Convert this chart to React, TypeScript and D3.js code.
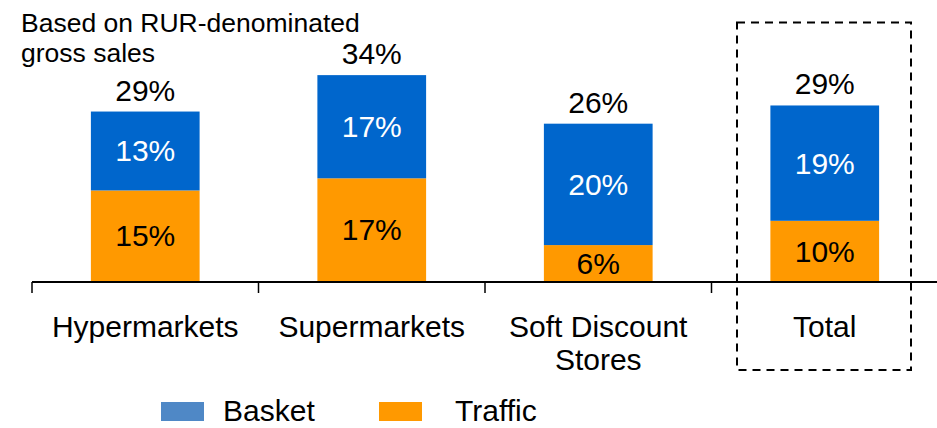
import React, { useEffect, useRef } from "react";
import * as d3 from "d3";

// growth decomposition, % yoy
const categories = ["Hypermarkets", "Supermarkets", "Soft Discount|Stores", "Total"];
const traffic = [15, 17, 6, 10];
const basket = [13, 17, 20, 19];
const totals = [29, 34, 26, 29];
const seriesNames = ["Basket", "Traffic"];

const width = 937;
const height = 428;
const FONT = "'Liberation Sans', Arial, sans-serif";

export default function App() {
  const ref = useRef<SVGSVGElement | null>(null);

  useEffect(() => {
    const svg = d3.select(ref.current);
    svg.selectAll("*").remove();

    const x = d3.scaleBand<string>().domain(categories).range([32, 938]).padding(0);
    const y = d3.scaleLinear().domain([0, 40]).range([281.5, 38.7]);
    const barW = x.step() * 0.48;
    const cx = (c: string) => (x(c) as number) + x.bandwidth() / 2;

    // note top left
    const note = svg.append("text").attr("font-family", FONT).attr("font-size", 26.5).attr("fill", "#000");
    note.append("tspan").attr("x", 21).attr("y", 31.5).text("Based on RUR-denominated");
    note.append("tspan").attr("x", 21).attr("y", 62).text("gross sales");

    // dashed box round Total
    svg.append("rect")
      .attr("x", 737).attr("y", 22.5)
      .attr("width", 174).attr("height", 347.5)
      .attr("fill", "none").attr("stroke", "#000")
      .attr("stroke-width", 2).attr("stroke-dasharray", "8,6");

    const g = svg.selectAll("g.bar").data(categories).enter().append("g").attr("class", "bar");

    // traffic (bottom)
    g.append("rect")
      .attr("x", (d) => cx(d) - barW / 2)
      .attr("y", (d, i) => y(traffic[i]))
      .attr("width", barW)
      .attr("height", (d, i) => y(0) - y(traffic[i]))
      .attr("fill", "#FF9900");

    // basket on top
    g.append("rect")
      .attr("x", (d) => cx(d) - barW / 2)
      .attr("y", (d, i) => y(traffic[i] + basket[i]))
      .attr("width", barW)
      .attr("height", (d, i) => y(traffic[i]) - y(traffic[i] + basket[i]))
      .attr("fill", "#0066CC");

    g.append("text")
      .attr("x", (d) => cx(d))
      .attr("y", (d, i) => (y(0) + y(traffic[i])) / 2 + 10.5)
      .attr("text-anchor", "middle").attr("font-family", FONT).attr("font-size", 30)
      .attr("fill", "#000")
      .text((d, i) => traffic[i] + "%");

    g.append("text")
      .attr("x", (d) => cx(d))
      .attr("y", (d, i) => (y(traffic[i]) + y(traffic[i] + basket[i])) / 2 + 10.5)
      .attr("text-anchor", "middle").attr("font-family", FONT).attr("font-size", 30)
      .attr("fill", "#fff")
      .text((d, i) => basket[i] + "%");

    g.append("text")
      .attr("x", (d) => cx(d))
      .attr("y", (d, i) => y(traffic[i] + basket[i]) - 11)
      .attr("text-anchor", "middle").attr("font-family", FONT).attr("font-size", 30)
      .attr("fill", "#000")
      .text((d, i) => totals[i] + "%");

    // axis
    svg.append("line")
      .attr("x1", 32).attr("x2", 937).attr("y1", 282).attr("y2", 282)
      .attr("stroke", "#000").attr("stroke-width", 2);
    svg.selectAll("line.tick").data(categories).enter().append("line")
      .attr("class", "tick")
      .attr("x1", (d) => x(d) as number).attr("x2", (d) => x(d) as number)
      .attr("y1", 282).attr("y2", 293)
      .attr("stroke", "#000").attr("stroke-width", 1.5);

    const lbl = svg.selectAll("text.cat").data(categories).enter().append("text")
      .attr("class", "cat")
      .attr("text-anchor", "middle").attr("font-family", FONT).attr("font-size", 30)
      .attr("fill", "#000");
    lbl.each(function (d) {
      d.split("|").forEach((s, k) => {
        d3.select(this).append("tspan").attr("x", cx(d)).attr("y", 337 + k * 33).text(s);
      });
    });

    // legend
    const legColors = ["#4F88C6", "#FF9900"];
    const legX = [161, 379];
    const legTextX = [223, 455];
    seriesNames.forEach((s, i) => {
      svg.append("rect").attr("x", legX[i]).attr("y", 402).attr("width", 43).attr("height", 19)
        .attr("fill", legColors[i]);
      svg.append("text").attr("x", legTextX[i]).attr("y", 421).attr("font-family", FONT)
        .attr("font-size", 30).attr("fill", "#000").text(s);
    });
  }, []);

  return (
    <svg
      ref={ref}
      width={width}
      height={height}
      style={{ position: "absolute", left: 0, top: 0, background: "#fff" }}
    />
  );
}
